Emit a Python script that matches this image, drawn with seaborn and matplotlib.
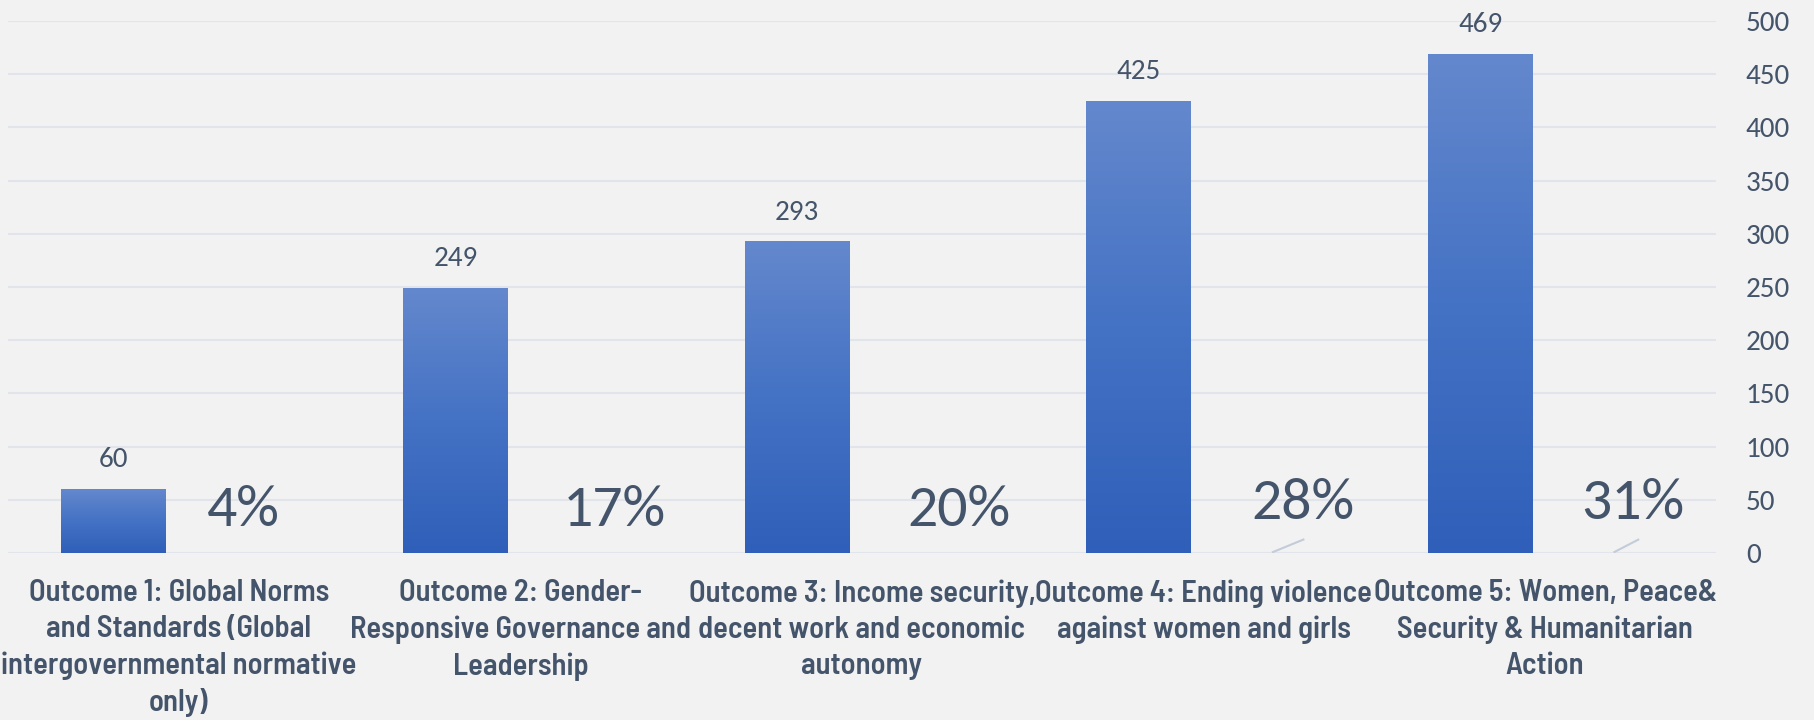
import numpy as np
import seaborn as sns
import matplotlib.pyplot as plt
from matplotlib.colors import LinearSegmentedColormap

# chart data
categories = [
    "Outcome 1: Global Norms\nand Standards (Global\nintergovernmental normative\nonly)",
    "Outcome 2: Gender-\nResponsive Governance and\nLeadership",
    "Outcome 3: Income security,\ndecent work and economic\nautonomy",
    "Outcome 4: Ending violence\nagainst women and girls",
    "Outcome 5: Women, Peace&\nSecurity & Humanitarian\nAction",
]
counts = [60, 249, 293, 425, 469]
shares = ["4%", "17%", "20%", "28%", "31%"]
yticks = [0, 50, 100, 150, 200, 250, 300, 350, 400, 450, 500]

# where the share labels sit (they were dragged by hand in the original)
share_dx = [0.19, 0.276, 0.284, 0.292, 0.257]
share_base = [25, 25, 25, 32, 32]
leader_end = [None, None, None, (0.295, 13), (0.275, 13)]

TEXT = "#44546A"
BG = "#F2F2F2"
NUM_FONT = ["Carlito", "Lato", "DejaVu Sans"]
CAT_FONT = ["Bahnschrift", "Barlow Semi Condensed", "DejaVu Sans"]

sns.set_theme(style="white")
plt.rcParams["font.family"] = NUM_FONT

fig = plt.figure(figsize=(18.14, 7.2), dpi=100)
fig.patch.set_facecolor(BG)
ax = fig.add_axes([8 / 1814, 1 - 553 / 720, 1708 / 1814, 532 / 720])
ax.set_facecolor(BG)

# bars sit left of the category centre (second, hidden series carried the %)
pos = np.arange(len(counts)) - 0.19
sns.barplot(x=pos, y=counts, native_scale=True, width=0.307,
            color="#4472C4", linewidth=0, ax=ax)

# vertical gradient on each bar
cmap = LinearSegmentedColormap.from_list("bar", ["#2F5FB9", "#4472C4", "#6488CD"])
grad = np.linspace(0, 1, 256).reshape(-1, 1)
for bar in list(ax.patches):
    x0, w, h = bar.get_x(), bar.get_width(), bar.get_height()
    im = ax.imshow(grad, cmap=cmap, aspect="auto", origin="lower",
                   extent=(x0, x0 + w, 0, h), zorder=bar.get_zorder() + 0.1)
    im.set_clip_path(bar)

ax.set_xlim(-0.5, len(counts) - 0.5)
ax.set_ylim(0, 500)

# value labels above bars
for x, v in zip(pos, counts):
    ax.annotate(str(v), (x, v), xytext=(0, 21), textcoords="offset points",
                ha="center", va="center", fontsize=21, color=TEXT)

# share labels and leader lines
for i, s in enumerate(shares):
    ax.text(i + share_dx[i], share_base[i], s, ha="center", va="baseline",
            fontsize=43, color=TEXT)
    if leader_end[i] is not None:
        ex, ey = leader_end[i]
        ax.plot([i + 0.20, i + ex], [0.5, ey], color="#C3CCD9", linewidth=1.5,
                solid_capstyle="butt", zorder=3)

# axes styling
ax.yaxis.tick_right()
ax.set_yticks(yticks)
ax.tick_params(axis="y", length=0, pad=21.5, labelsize=21, labelcolor=TEXT)
ax.set_xticks(range(len(categories)))
ax.set_xticklabels(categories, fontsize=22, color=TEXT, weight=600,
                   family=CAT_FONT, linespacing=1.36, va="top")
ax.tick_params(axis="x", length=0, pad=19)
ax.set_xlabel("")
ax.set_ylabel("")

ax.yaxis.grid(True, color="#E1E5EB", linewidth=1.5)
ax.xaxis.grid(False)
ax.set_axisbelow(True)
sns.despine(ax=ax, left=True, bottom=True, right=True, top=True)

fig.savefig("out.png", dpi=100, facecolor=BG)
